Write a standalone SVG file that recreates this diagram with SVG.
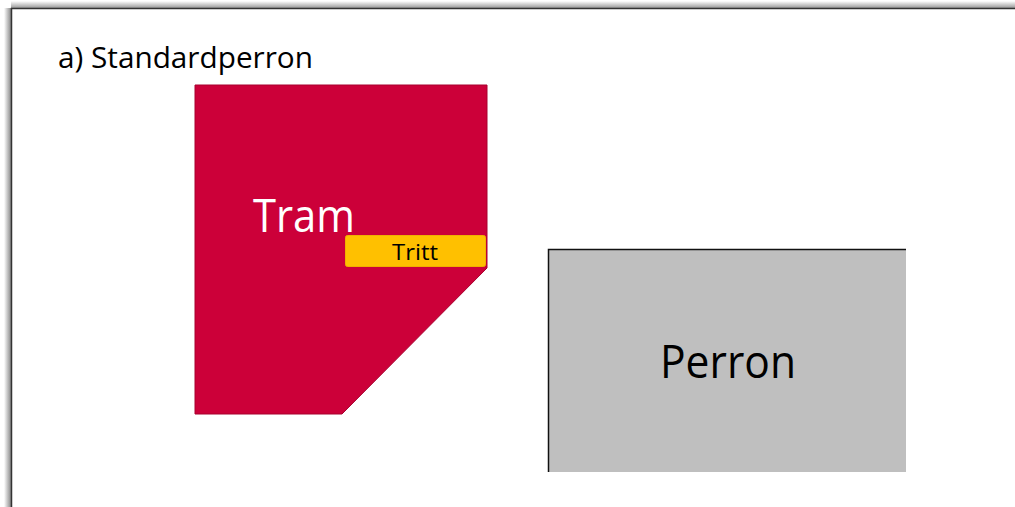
<svg xmlns="http://www.w3.org/2000/svg" width="1015" height="507" viewBox="0 0 1015 507">
  <defs>
    <linearGradient id="shL" x1="1" y1="0" x2="0" y2="0">
      <stop offset="0" stop-color="#888"/>
      <stop offset="1" stop-color="#fff"/>
    </linearGradient>
    <linearGradient id="shT" x1="0" y1="1" x2="0" y2="0">
      <stop offset="0" stop-color="#999"/>
      <stop offset="1" stop-color="#fff"/>
    </linearGradient>
  </defs>
  <style>
    .lbl { font-family: "Segoe UI", "Open Sans", "Noto Sans", "DejaVu Sans", sans-serif; }
  </style>
  <rect x="0" y="0" width="1015" height="507" fill="#fff"/>
  <g id="frame">
    <rect x="4" y="8" width="7" height="499" fill="url(#shL)"/>
    <rect x="11" y="1" width="1004" height="7" fill="url(#shT)"/>
    <path d="M11.5 507 V8.5 H1015" fill="none" stroke="#333" stroke-width="1.5"/>
  </g>
  <g id="title">
    <text class="lbl" x="58" y="68" font-size="29" fill="#000" textLength="255" lengthAdjust="spacingAndGlyphs">a) Standardperron</text>
  </g>
  <g id="tram">
    <polygon points="195,85 487,85 487,268 342,414 195,414" fill="#CC0039" stroke="#A8002E" stroke-width="1"/>
    <text class="lbl" x="253" y="232" font-size="46" fill="#fff" textLength="102" lengthAdjust="spacingAndGlyphs">Tram</text>
  </g>
  <g id="tritt">
    <rect x="345.5" y="235.5" width="140" height="31" rx="2" fill="#FFC000" stroke="#F0B000" stroke-width="1"/>
    <text class="lbl" x="392" y="260" font-size="22" fill="#000" textLength="46" lengthAdjust="spacingAndGlyphs">Tritt</text>
  </g>
  <g id="perron">
    <rect x="548" y="249" width="358" height="223" fill="#BFBFBF"/>
    <path d="M548.5 472 V249.5 H906" fill="none" stroke="#111" stroke-width="1.5"/>
    <text class="lbl" x="660" y="378" font-size="46" fill="#000" textLength="136" lengthAdjust="spacingAndGlyphs">Perron</text>
  </g>
  <g id="connectors"/>
</svg>
